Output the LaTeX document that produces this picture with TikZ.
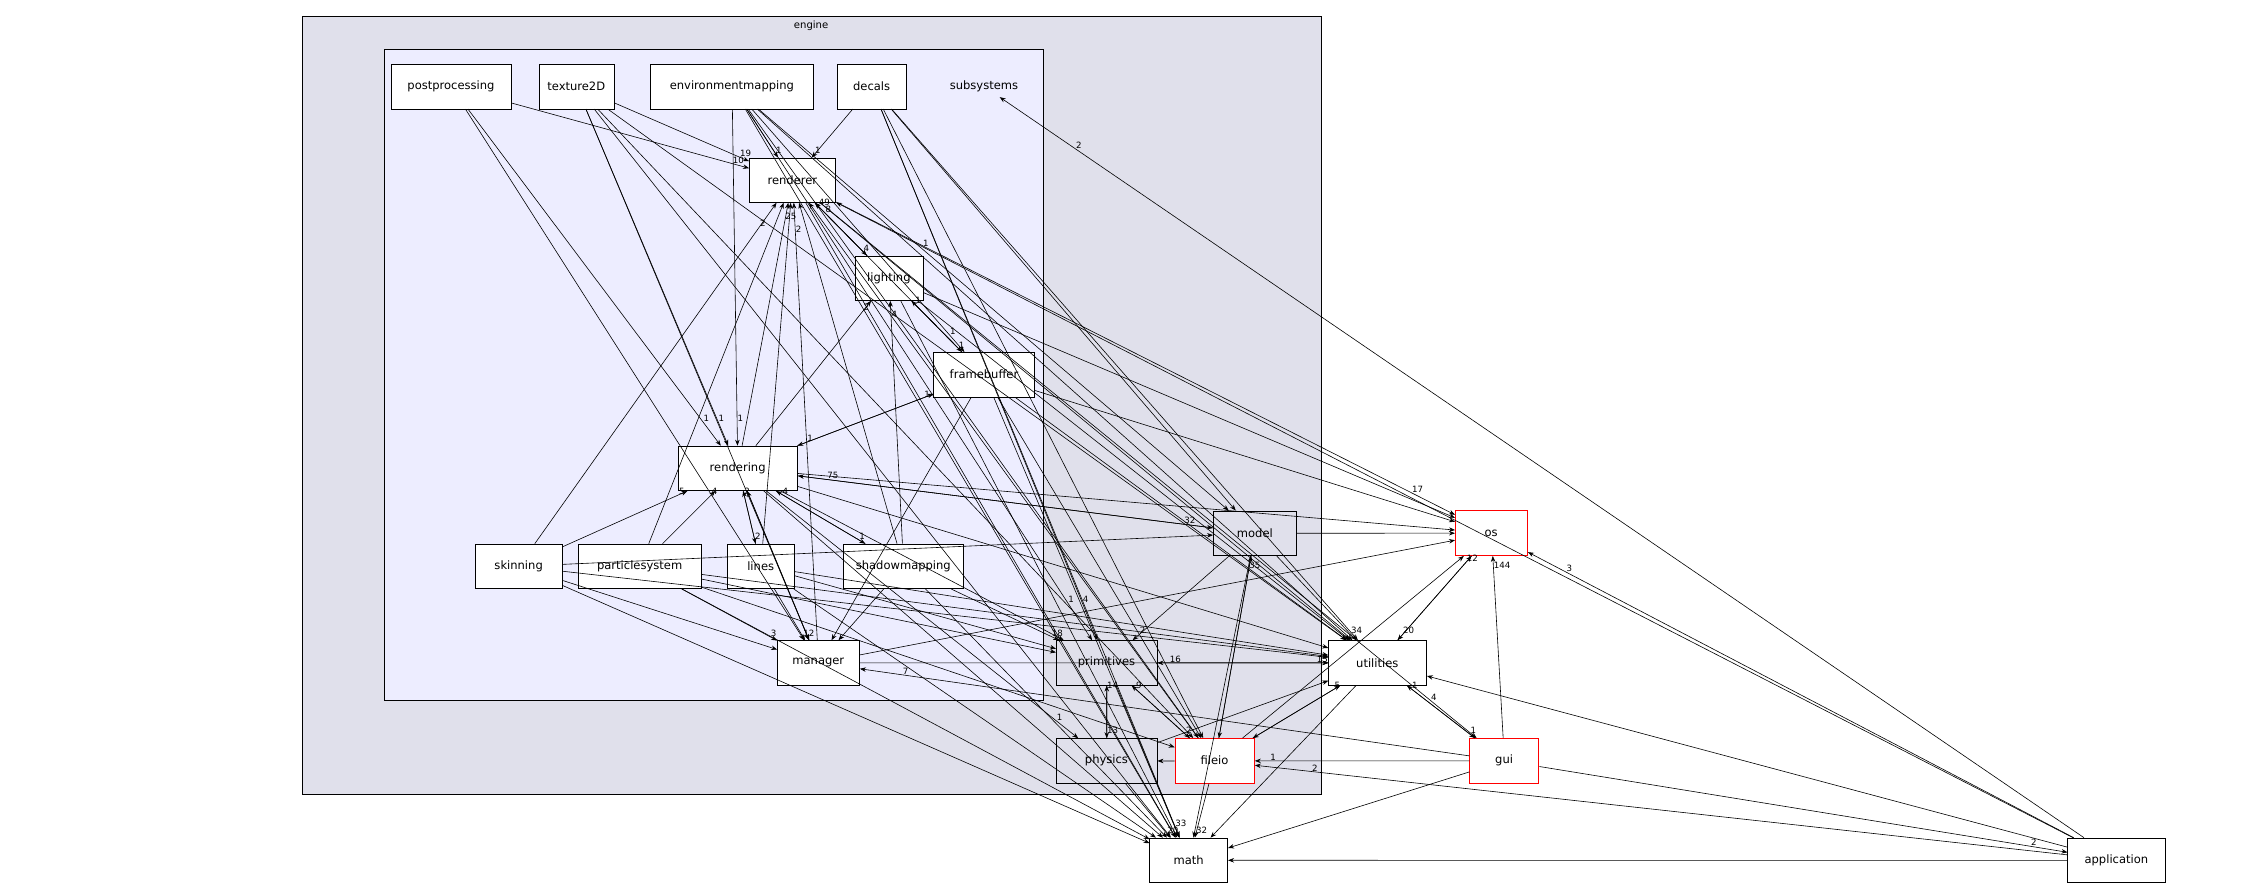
\documentclass[tikz,border=0pt]{standalone}
\usepackage{fontspec}
\setmainfont{DejaVu Sans}
\usetikzlibrary{arrows.meta}

\tikzset{
  dir/.style={draw=black,fill=white,minimum height=31pt,inner sep=3pt,font=\fontsize{8}{10}\selectfont},
  sub/.style={dir,fill=blue!20!gray!20},
  bad/.style={dir,draw=red,semithick},
  dep/.style={-{Stealth[length=6pt,width=4.5pt]},line width=.6pt},
  lbl/.style={font=\fontsize{6}{7}\selectfont,inner sep=1pt}
}

\begin{document}
\begin{tikzpicture}[x=1pt,y=-1pt,scale=1.4407,every node/.append style={transform shape}]
\useasboundingbox (0,0) rectangle (1568,613.6);
% clusters
\draw[fill=blue!20!gray!20] (210,11) rectangle (917,551);
\node[lbl,font=\fontsize{7}{8}\selectfont] (engine) at (563,18) {engine};
\draw[fill=blue!7] (267,34) rectangle (724,486);
\node[font=\fontsize{8}{10}\selectfont] (subsystems) at (683,60) {subsystems};
%
% subsystem dirs
\node[dir,minimum width=83pt] (postprocessing) at (313,60) {postprocessing};
\node[dir,minimum width=52pt] (texture2D) at (400,60) {texture2D};
\node[dir,minimum width=113pt] (environmentmapping) at (508,60) {environmentmapping};
\node[dir,minimum width=48pt] (decals) at (605,60) {decals};
\node[dir,minimum width=60pt] (renderer) at (550,125) {renderer};
\node[dir,minimum width=47pt] (lighting) at (617,193) {lighting};
\node[dir,minimum width=70pt] (framebuffer) at (683,260) {framebuffer};
\node[dir,minimum width=83pt] (rendering) at (512,325) {rendering};
\node[dir,minimum width=60pt] (skinning) at (360,393) {skinning};
\node[dir,minimum width=85pt] (particlesystem) at (444,393) {particlesystem};
\node[dir,minimum width=47pt] (lines) at (528,393) {lines};
\node[dir,minimum width=83pt] (shadowmapping) at (627,393) {shadowmapping};
\node[dir,minimum width=57pt] (manager) at (568,460) {manager};
% engine dirs
\node[sub,minimum width=58pt] (model) at (871,370) {model};
\node[sub,minimum width=70pt] (primitives) at (768,460) {primitives};
\node[sub,minimum width=70pt] (physics) at (768,528) {physics};
\node[bad,minimum width=55pt] (fileio) at (843,528) {fileio};
% top level dirs
\node[dir,minimum width=68pt] (utilities) at (956,460) {utilities};
\node[bad,minimum width=50pt] (os) at (1035,370) {os};
\node[bad,minimum width=48pt] (gui) at (1044,528) {gui};
\node[dir,minimum width=54pt] (math) at (825,597) {math};
\node[dir,minimum width=68pt] (application) at (1469,597) {application};
%
% dependencies
\foreach \a/\b/\n in {
  postprocessing/renderer/10, postprocessing/rendering/1, postprocessing/manager/,
  texture2D/renderer/19, texture2D/rendering/1, texture2D/manager/, texture2D/fileio/,
  texture2D/utilities/, texture2D/math/,
  environmentmapping/renderer/1, environmentmapping/rendering/1, environmentmapping/framebuffer/1,
  environmentmapping/primitives/1, environmentmapping/fileio/, environmentmapping/model/,
  environmentmapping/utilities/, environmentmapping/math/,
  decals/renderer/1, decals/primitives/4, decals/model/, decals/fileio/, decals/utilities/, decals/math/,
  renderer/lighting/4, renderer/os/17, renderer/utilities/, renderer/math/, renderer/gui/4,
  lighting/renderer/49, lighting/framebuffer/1, lighting/os/, lighting/utilities/, lighting/math/,
  framebuffer/lighting/1, framebuffer/renderer/8, framebuffer/rendering/1, framebuffer/os/,
  framebuffer/utilities/, framebuffer/manager/, framebuffer/fileio/, framebuffer/math/,
  rendering/renderer/25, rendering/lighting/2, rendering/framebuffer/1, rendering/lines/2,
  rendering/shadowmapping/1, rendering/model/32, rendering/os/, rendering/utilities/,
  rendering/manager/, rendering/math/, rendering/primitives/, rendering/physics/1,
  skinning/renderer/2, skinning/rendering/5, skinning/manager/, skinning/model/, skinning/utilities/, skinning/math/,
  particlesystem/renderer/, particlesystem/rendering/4, particlesystem/manager/3,
  particlesystem/primitives/, particlesystem/utilities/, particlesystem/fileio/, particlesystem/math/,
  lines/renderer/, lines/rendering/2, lines/manager/12, lines/primitives/, lines/utilities/, lines/math/,
  shadowmapping/renderer/, shadowmapping/rendering/4, shadowmapping/lighting/4,
  shadowmapping/primitives/18, shadowmapping/manager/, shadowmapping/math/,
  manager/renderer/2, manager/rendering/, manager/os/, manager/utilities/,
  model/rendering/75, model/primitives/2, model/os/, model/utilities/34, model/fileio/, model/math/,
  primitives/physics/13, primitives/math/33, primitives/utilities/15, primitives/fileio/2,
  physics/primitives/14, physics/math/20, physics/utilities/,
  fileio/model/35, fileio/primitives/9, fileio/physics/, fileio/utilities/5, fileio/math/32,
  fileio/os/, fileio/renderer/,
  utilities/os/12, utilities/math/, utilities/fileio/, utilities/gui/1, utilities/primitives/16,
  os/utilities/20,
  gui/os/144, gui/utilities/1, gui/fileio/1, gui/math/, gui/application/2, gui/manager/7,
  application/renderer/1, application/utilities/, application/fileio/2, application/math/,
  application/os/3, application/subsystems/2}
  \draw[dep] (\a) -- node[lbl,pos=.93,above right=-1pt] {\n} (\b);
\end{tikzpicture}
\end{document}
